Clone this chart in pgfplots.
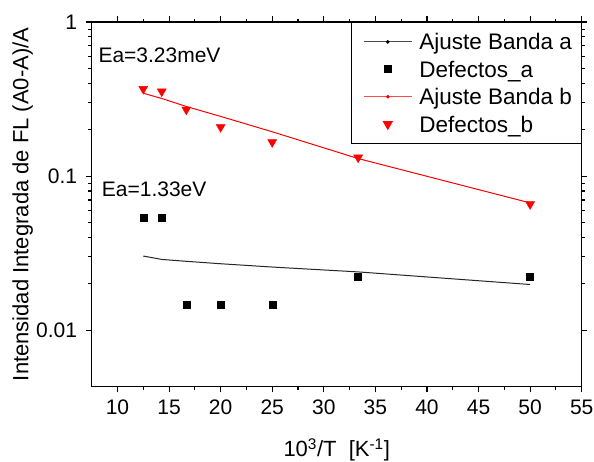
\documentclass[border=0pt]{standalone}
\usepackage{fontspec}
\setmainfont{Liberation Sans}
\usepackage{pgfplots}
\pgfplotsset{compat=1.18}
\begin{document}
\begin{tikzpicture}
\useasboundingbox (-91.7pt,-74.3pt) rectangle (502.3pt,386.7pt);
\begin{axis}[
  at={(0pt,0pt)}, anchor=south west,
  scale only axis, width=490pt, height=364.7pt,
  xmin=7.5, xmax=55, ymode=log, ymin=0.0043, ymax=1,
  xtick={10,15,...,55}, xticklabels={10,15,20,25,30,35,40,45,50,55},
  minor x tick num=1,
  ytick={0.01,0.1,1}, yticklabels={0.01,0.1,1},
  tick align=outside,
  major tick length=5.7pt, minor tick length=3.3pt,
  axis line style={line width=1.3pt},
  tick style={line width=1.1pt, black},
  tick label style={font=\fontsize{21}{21}\selectfont, inner sep=0pt},
  xticklabel shift=7.3pt, yticklabel shift=8.7pt,
  xlabel={10\textsuperscript{3}/T\ \ [K\textsuperscript{-1}]},
  xlabel style={at={(axis description cs:0.5,-0.1919)}, anchor=base, font=\fontsize{22}{22}\selectfont, inner sep=0pt},
  ylabel={Intensidad Integrada de FL (A0-A)/A},
  ylabel style={at={(axis description cs:-0.1294,0.5)}, anchor=base, font=\fontsize{22}{22}\selectfont, inner sep=0pt},
  legend style={at={(rel axis cs:1,1)}, anchor=north east, draw=black, line width=0.8pt, fill=white,
    inner xsep=12pt, inner ysep=9.5pt, row sep=7.4pt, column sep=7pt, cells={anchor=west},
    nodes={inner sep=0pt, text height=18pt, text depth=2pt},
    font=\fontsize{22.5}{22.5}\selectfont},
]
\addplot[black!85, line width=1pt, mark=none,
  legend image code/.code={\path[draw=none,fill=none] (0pt,-6pt) rectangle (48pt,6pt); \draw[black!70, line width=1pt] (0pt,0pt) -- (48pt,0pt); \fill[black] (24pt,0pt) circle (1.3pt);}]
  coordinates {(12.5,0.0303) (14.29,0.0288) (16.67,0.0280) (20,0.0270) (25,0.0257) (33.33,0.0239) (50,0.0198)};
\addlegendentry{\makebox[150pt][l]{Ajuste Banda a}}
\addplot[only marks, mark=square*, mark size=3.5pt, black,
  legend image code/.code={\path[draw=none,fill=none] (0pt,-6pt) rectangle (48pt,6pt); \draw[only marks, mark=square*, mark size=3.5pt, black] plot coordinates {(24pt,0pt)};}]
  coordinates {(12.5,0.0534) (14.29,0.0534) (16.67,0.0147) (20,0.0147) (25,0.0147) (33.33,0.0223) (50,0.0223)};
\addlegendentry{\makebox[150pt][l]{Defectos\_a}}
\addplot[red, line width=1pt, mark=none,
  legend image code/.code={\path[draw=none,fill=none] (0pt,-6pt) rectangle (48pt,6pt); \draw[red!70, line width=1pt] (0pt,0pt) -- (48pt,0pt); \fill[red] (24pt,0pt) circle (1.3pt);}]
  coordinates {(12.5,0.345) (14.29,0.319) (16.67,0.283) (20,0.244) (25,0.194) (33.33,0.130) (50,0.067)};
\addlegendentry{\makebox[150pt][l]{Ajuste Banda b}}
\addplot[only marks, mark=triangle*, mark size=5.2pt, red, mark options={rotate=180},
  legend image code/.code={\path[draw=none,fill=none] (0pt,-6pt) rectangle (48pt,6pt); \draw[only marks, mark=triangle*, mark size=5.2pt, red, mark options={rotate=180}] plot coordinates {(24pt,0pt)};}]
  coordinates {(12.5,0.368) (14.29,0.354) (16.67,0.270) (20,0.208) (25,0.166) (33.33,0.132) (50,0.0657)};
\addlegendentry{\makebox[150pt][l]{Defectos\_b}}
\node[anchor=base west, inner sep=0pt, font=\fontsize{21}{21}\selectfont] at (rel axis cs:0.0135,0.888) {Ea=3.23meV};
\node[anchor=base west, inner sep=0pt, font=\fontsize{21}{21}\selectfont] at (rel axis cs:0.0204,0.521) {Ea=1.33eV};
\end{axis}
\end{tikzpicture}
\end{document}
